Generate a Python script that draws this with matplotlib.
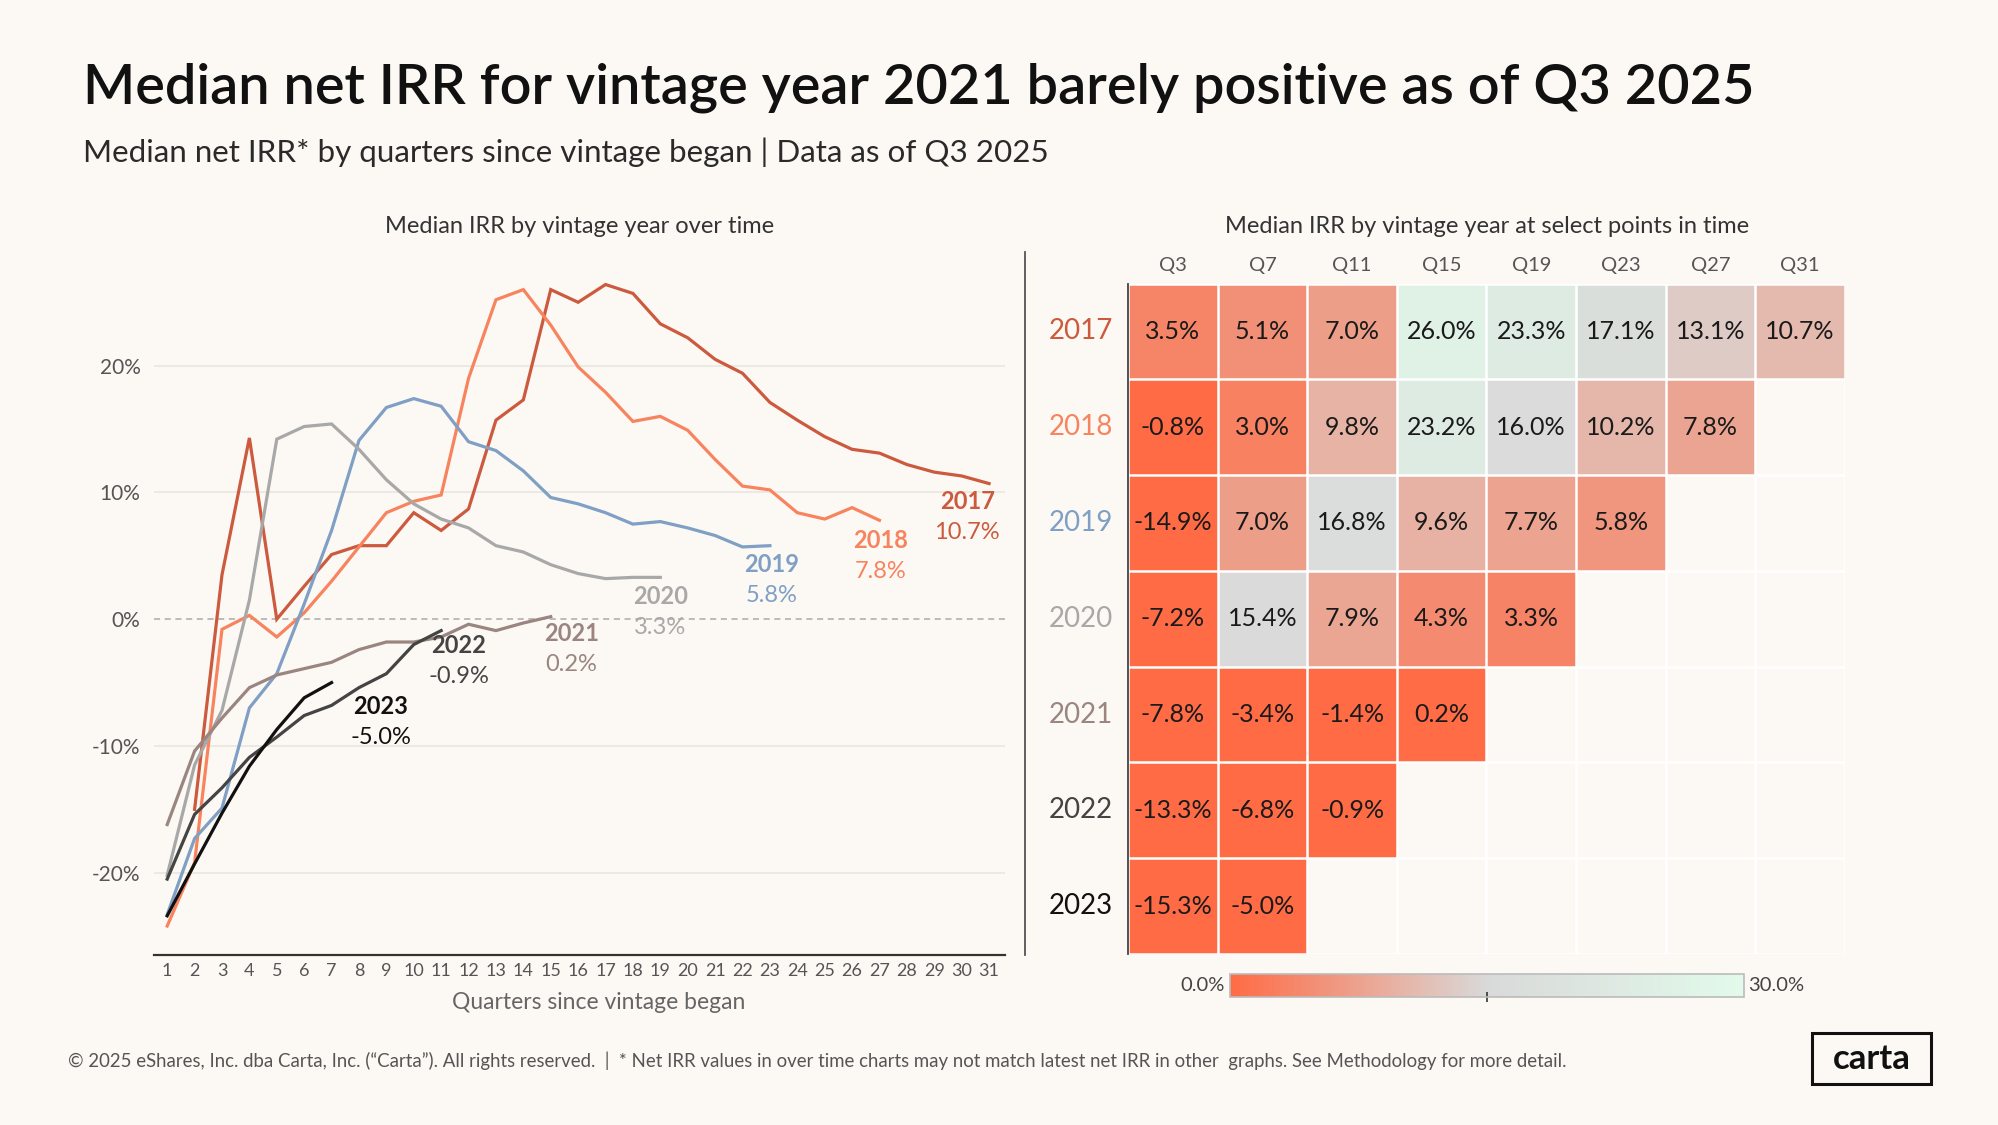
import numpy as np
import matplotlib
matplotlib.use("Agg")
import matplotlib.pyplot as plt
from matplotlib.colors import LinearSegmentedColormap, Normalize
from matplotlib.cm import ScalarMappable
from matplotlib.patches import Rectangle

plt.rcParams['font.family'] = ['Lato', 'DejaVu Sans']

# ---- data ----
vintages = [2017, 2018, 2019, 2020, 2021, 2022, 2023]
first_quarter = [2, 1, 1, 1, 1, 1, 1]
irr_2017 = [-15.0, 3.5, 14.3, 0.0, 2.6, 5.1, 5.8, 5.8, 8.4, 7.0, 8.7, 15.7, 17.3, 26.0, 25.0,
            26.4, 25.7, 23.3, 22.2, 20.5, 19.4, 17.1, 15.7, 14.4, 13.4, 13.1, 12.2, 11.6, 11.3, 10.7]
irr_2018 = [-24.2, -19.2, -0.8, 0.3, -1.4, 0.5, 3.0, 5.7, 8.4, 9.3, 9.8, 19.0, 25.2, 26.0, 23.2,
            19.9, 17.9, 15.6, 16.0, 14.9, 12.6, 10.5, 10.2, 8.4, 7.9, 8.8, 7.8]
irr_2019 = [-23.3, -17.3, -14.9, -7.0, -4.3, 1.2, 7.0, 14.1, 16.7, 17.4, 16.8, 14.0, 13.3, 11.7,
            9.6, 9.1, 8.4, 7.5, 7.7, 7.2, 6.6, 5.7, 5.8]
irr_2020 = [-20.2, -11.5, -7.2, 1.5, 14.2, 15.2, 15.4, 13.4, 11.0, 9.1, 7.9, 7.2, 5.8, 5.3, 4.3,
            3.6, 3.2, 3.3, 3.3]
irr_2021 = [-16.2, -10.4, -7.8, -5.4, -4.4, -3.9, -3.4, -2.4, -1.8, -1.8, -1.4, -0.4, -0.9, -0.3, 0.2]
irr_2022 = [-20.5, -15.4, -13.3, -10.9, -9.3, -7.6, -6.8, -5.4, -4.3, -2.0, -0.9]
irr_2023 = [-23.4, -19.3, -15.3, -11.6, -8.7, -6.2, -5.0]
series = [irr_2017, irr_2018, irr_2019, irr_2020, irr_2021, irr_2022, irr_2023]

select_quarters = [3, 7, 11, 15, 19, 23, 27, 31]
quarter_ticks = list(range(1, 32))
y_ticks = [-20, -10, 0, 10, 20]

# ---- styling ----
bg = '#FCF9F4'
colors = ['#CC5A3E', '#F7845E', '#7F9FC4', '#A8A8A8', '#9A8580', '#444444', '#111111']
# label anchor (quarter, value) for the end-of-line annotations
label_pos = [(30.2, 9.3), (27.05, 6.2), (23.05, 4.3), (19.0, 1.8), (15.75, -1.1), (11.65, -2.1), (8.8, -6.9)]

fig = plt.figure(figsize=(19.99, 11.25), dpi=100, facecolor=bg)

fig.text(0.0415, 0.908, "Median net IRR for vintage year 2021 barely positive as of Q3 2025",
         fontsize=40.2, fontweight='semibold', color='#111111', va='baseline')
fig.text(0.0415, 0.856, "Median net IRR* by quarters since vintage began | Data as of Q3 2025",
         fontsize=22.6, fontweight='normal', color='#2A2A2A', va='baseline')

# ---- left: lines ----
ax = fig.add_axes([0.0772, 0.151, 0.4258, 0.622])
ax.set_facecolor(bg)
for yr, start, vals, c in zip(vintages, first_quarter, series, colors):
    q = np.arange(start, start + len(vals))
    ax.plot(q, vals, color=c, lw=2.3, solid_joinstyle='miter', zorder=3)

for i, (yr, vals, c) in enumerate(zip(vintages, series, colors)):
    lx, ly = label_pos[i]
    ax.text(lx, ly, str(yr), color=c, fontsize=17, fontweight='bold', ha='center', va='center', zorder=4)
    ax.text(lx, ly - 2.45, f"{vals[-1]:.1f}%", color=c, fontsize=17, ha='center', va='center', zorder=4)

for t in y_ticks:
    if t == 0:
        ax.axhline(0, color='#AAAAAA', lw=1.1, ls=(0, (4, 3)), zorder=1)
    else:
        ax.axhline(t, color='#E9E6E2', lw=1.2, zorder=1)

ax.set_xlim(0.53, 31.6)
ax.set_ylim(-26.5, 28.7)
ax.set_xticks(quarter_ticks)
ax.set_xticklabels([str(q) for q in quarter_ticks])
ax.set_yticks(y_ticks)
ax.set_yticklabels([f"{t}%" for t in y_ticks])
ax.tick_params(length=0, colors='#555555')
ax.tick_params(axis='x', labelsize=13, pad=6)
ax.tick_params(axis='y', labelsize=15, pad=10)
for s in ['top', 'right', 'left']:
    ax.spines[s].set_visible(False)
ax.spines['bottom'].set_color('#333333')
ax.spines['bottom'].set_linewidth(1.6)
ax.set_xlabel("Quarters since vintage began", fontsize=16.5, color='#666666')
ax.xaxis.set_label_coords(0.522, -0.052)

fig.text(0.290, 0.799, "Median IRR by vintage year over time", fontsize=17,
         color='#333333', ha='center', va='center')

# divider
fig.add_artist(plt.Line2D([0.5128, 0.5128], [0.151, 0.776], color='#555555', lw=1.3))

# ---- right: heatmap ----
cmap = LinearSegmentedColormap.from_list('irr', ['#FF6B45', '#D9D9D9', '#E2FAEB'])
norm = Normalize(vmin=0, vmax=30)

grid = np.full((len(vintages), len(select_quarters)), np.nan)
for i, (start, vals) in enumerate(zip(first_quarter, series)):
    for j, q in enumerate(select_quarters):
        k = q - start
        if 0 <= k < len(vals):
            grid[i, j] = vals[k]

ax2 = fig.add_axes([0.5644, 0.152, 0.3584, 0.596])
ax2.set_facecolor(bg)
ax2.pcolormesh(np.arange(len(select_quarters) + 1), np.arange(len(vintages) + 1),
               np.ma.masked_invalid(grid), cmap=cmap, norm=norm, zorder=1)
for x in range(len(select_quarters) + 1):
    ax2.axvline(x, color='white', lw=1.8, zorder=2)
for y in range(len(vintages) + 1):
    ax2.axhline(y, color='white', lw=1.8, zorder=2)
ax2.set_xlim(0, len(select_quarters))
ax2.set_ylim(len(vintages), 0)
for i in range(len(vintages)):
    for j in range(len(select_quarters)):
        if not np.isnan(grid[i, j]):
            ax2.text(j + 0.5, i + 0.5, f"{grid[i, j]:.1f}%", ha='center', va='center',
                     fontsize=18, color='#1A1A1A', zorder=3)
for i, (yr, c) in enumerate(zip(vintages, colors)):
    ax2.text(-0.53, i + 0.5, str(yr), ha='center', va='center', fontsize=20, color=c)
for j, q in enumerate(select_quarters):
    ax2.text(j + 0.5, -0.19, f"Q{q}", ha='center', va='center', fontsize=14.5, color='#555555')
ax2.set_xticks([])
ax2.set_yticks([])
for s in ['top', 'right', 'bottom']:
    ax2.spines[s].set_visible(False)
ax2.spines['left'].set_color('#444444')
ax2.spines['left'].set_linewidth(1.3)
ax2.spines['left'].set_zorder(5)

fig.text(0.744, 0.799, "Median IRR by vintage year at select points in time", fontsize=17,
         color='#333333', ha='center', va='center')

# colorbar
cax = fig.add_axes([0.6154, 0.1135, 0.257, 0.0204])
cb = fig.colorbar(ScalarMappable(norm=norm, cmap=cmap), cax=cax, orientation='horizontal', ticks=[15])
cb.ax.set_xticklabels([''])
cb.ax.tick_params(length=7, width=1.2, color='#333333', direction='inout')
cb.outline.set_edgecolor('#BBBBBB')
cb.outline.set_linewidth(1.2)
fig.text(0.6125, 0.1237, "0.0%", ha='right', va='center', fontsize=14.5, color='#444444')
fig.text(0.8745, 0.1237, "30.0%", ha='left', va='center', fontsize=14.5, color='#444444')

# footer
fig.text(0.0338, 0.0575,
         "\u00a9 2025 eShares, Inc. dba Carta, Inc. (\u201cCarta\u201d). All rights reserved.  |  "
         "* Net IRR values in over time charts may not match latest net IRR in other  graphs. "
         "See Methodology for more detail.",
         fontsize=13.4, color='#555555', va='center')

fig.add_artist(Rectangle((0.9063, 0.0363), 0.0599, 0.0454, transform=fig.transFigure,
                         fill=False, ec='#111111', lw=2.2))
fig.text(0.9362, 0.0585, "carta", ha='center', va='center', fontsize=25, fontweight='bold',
         color='#111111')

fig.savefig("out.png", dpi=100, facecolor=bg)
